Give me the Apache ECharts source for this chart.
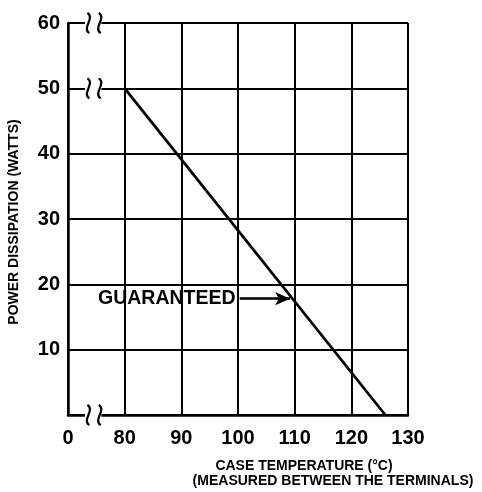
<!DOCTYPE html>
<html>
<head>
<meta charset="utf-8">
<script src="https://cdn.jsdelivr.net/npm/echarts@6/dist/echarts.min.js"></script>
<style>
  html, body { margin: 0; background: #fff; }
  #chart { width: 482px; height: 492px; }
</style>
</head>
<body>
<div id="chart"></div>
<script>
// x value 70 stands in for the "0" tick that sits before the axis break
const xTickValues = [70, 80, 90, 100, 110, 120, 130];
const xTickLabels = ['0', '80', '90', '100', '110', '120', '130'];
const yTickValues = [0, 10, 20, 30, 40, 50, 60];

// derating line
const caseTemp = [80, 126];
const powerDiss = [50, 0];

// annotation
const noteText = 'GUARANTEED';
const notePower = 17.8;
const noteTextTemp = 75.3;
const arrowFromTemp = 100.3;
const arrowToTemp = 109.2;

// axis break marks
const breakTemps = [73.6, 75.6];
const breakPowers = [60, 50, 0];

const xNameLines = ['CASE TEMPERATURE (°C)', '(MEASURED BETWEEN THE TERMINALS)'];
const yName = 'POWER DISSIPATION (WATTS)';

const font = '"Liberation Sans", Arial, sans-serif';
const chart = echarts.init(document.getElementById('chart'));

const option = {
  animation: false,
  grid: { left: 68, right: 74, top: 23, bottom: 77 },
  xAxis: {
    type: 'value',
    min: 70,
    max: 130,
    interval: 10,
    axisLine: { show: true, lineStyle: { color: '#000', width: 2.5 } },
    axisTick: { show: false },
    splitLine: { show: true, lineStyle: { color: '#000', width: 2 } },
    axisLabel: {
      margin: 13,
      color: '#000',
      fontSize: 20,
      fontWeight: 'bold',
      fontFamily: font,
      formatter: v => xTickLabels[xTickValues.indexOf(v)]
    }
  },
  yAxis: {
    type: 'value',
    min: 0,
    max: 60,
    interval: 10,
    axisLine: { show: true, lineStyle: { color: '#000', width: 2.5 } },
    axisTick: { show: false },
    splitLine: { show: true, lineStyle: { color: '#000', width: 2 } },
    axisLabel: {
      margin: 8,
      color: '#000',
      fontSize: 20,
      fontWeight: 'bold',
      fontFamily: font,
      formatter: v => (v === 0 ? '' : String(v))
    }
  },
  series: [
    {
      type: 'line',
      data: caseTemp.map((t, i) => [t, powerDiss[i]]),
      symbol: 'none',
      lineStyle: { color: '#000', width: 2.8 },
      markLine: {
        silent: true,
        symbol: ['none', 'arrow'],
        symbolSize: [10, 15],
        label: { show: false },
        lineStyle: { color: '#000', width: 2.5, type: 'solid' },
        data: [[{ coord: [arrowFromTemp, notePower] }, { coord: [arrowToTemp, notePower] }]]
      }
    }
  ]
};
chart.setOption(option);

// decorations placed through the axes
const px = (t, p) => chart.convertToPixel({ gridIndex: 0 }, [t, p]);
const graphics = [];
breakPowers.forEach(p => {
  const a = px(breakTemps[0] - 0.6, p);
  const b = px(breakTemps[1] + 0.3, p);
  graphics.push({
    type: 'rect', z: 100,
    shape: { x: a[0], y: a[1] - 3, width: b[0] - a[0], height: 6 },
    style: { fill: '#fff' }
  });
  breakTemps.forEach(t => {
    const c = px(t, p);
    graphics.push({
      type: 'bezierCurve', z: 101,
      shape: {
        x1: c[0] - 1, y1: c[1] - 10,
        cpx1: c[0] + 7, cpy1: c[1] - 5,
        cpx2: c[0] - 7, cpy2: c[1] + 5,
        x2: c[0] + 1, y2: c[1] + 10
      },
      style: { stroke: '#000', lineWidth: 2.2, fill: null }
    });
  });
});

const notePos = px(noteTextTemp, notePower);
graphics.push({
  type: 'text', z: 100,
  x: notePos[0], y: notePos[1],
  style: {
    text: noteText, fill: '#000', font: 'bold 19.5px ' + font,
    align: 'left', verticalAlign: 'middle'
  }
});

graphics.push({
  type: 'text', z: 100,
  x: 14, y: 222, rotation: Math.PI / 2,
  style: {
    text: yName, fill: '#000', font: 'bold 14px ' + font,
    align: 'center', verticalAlign: 'middle'
  }
});
xNameLines.forEach((line, i) => {
  graphics.push({
    type: 'text', z: 100,
    x: i === 0 ? 304 : 333, y: 466 + i * 15,
    style: {
      text: line, fill: '#000', font: 'bold 14px ' + font,
      align: 'center', verticalAlign: 'middle'
    }
  });
});
chart.setOption({ graphic: graphics });

window.onresize = () => chart.resize();
</script>
</body>
</html>
